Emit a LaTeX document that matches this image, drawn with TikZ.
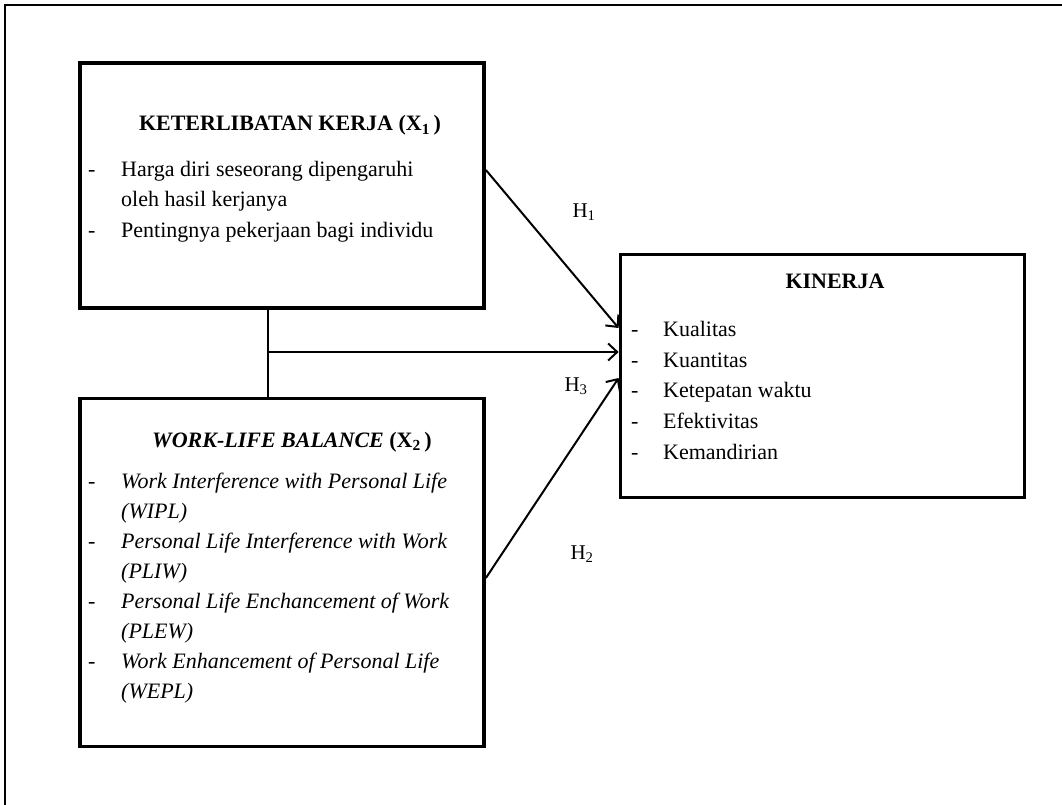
\documentclass[tikz,border=0pt]{standalone}
\usepackage{fontspec}
\setmainfont{Liberation Serif}
\usetikzlibrary{arrows.meta,calc}
\tikzset{
  boxnode/.style={draw, line width=3.8pt, inner sep=0pt, minimum width=404pt},
  txt/.style={anchor=base west, inner sep=0pt, font=\fontsize{22pt}{30pt}\selectfont},
  ttl/.style={anchor=base, inner sep=0pt, font=\fontsize{22pt}{30pt}\selectfont\bfseries},
  hlab/.style={anchor=center, inner sep=0pt, font=\fontsize{21pt}{24pt}\selectfont},
  conn/.style={line width=2pt},
  arr/.style={line width=2pt, -{Straight Barb[length=9pt,width=17pt,line width=2pt]}},
}
\newcommand{\dsh}{\makebox[33pt][l]{-}}
\begin{document}
\begin{tikzpicture}[x=1pt,y=-1pt]
\useasboundingbox (0,0) rectangle (1062,805);
% outer frame (only top and left visible)
\draw[line width=1.3pt] (5,805) -- (5,5) -- (1062,5);

% boxes
\node[boxnode, minimum height=245pt] (box1) at (282,185.5) {};
\node[boxnode, minimum height=348pt] (box2) at (282,572.5) {};
\node[boxnode, minimum height=243pt] (box3) at (822.5,376) {};

% box 1 text
\node[ttl] (t1) at (290,131) {KETERLIBATAN KERJA (X\textsubscript{1}\,)};
\node[txt] (b1a) at (88,177) {\dsh Harga diri seseorang dipengaruhi};
\node[txt] (b1b) at (121,207) {oleh hasil kerjanya};
\node[txt] (b1c) at (88,237) {\dsh Pentingnya pekerjaan bagi individu};

% box 2 text
\node[ttl] (t2) at (292,447) {\textit{WORK-LIFE BALANCE} (X\textsubscript{2}\,)};
\node[txt] (b2a) at (88,488) {\dsh\textit{Work Interference with Personal Life}};
\node[txt] (b2b) at (121,518) {\textit{(WIPL)}};
\node[txt] (b2c) at (88,548) {\dsh\textit{Personal Life Interference with Work}};
\node[txt] (b2d) at (121,578) {\textit{(PLIW)}};
\node[txt] (b2e) at (88,608) {\dsh\textit{Personal Life Enchancement of Work}};
\node[txt] (b2f) at (121,638) {\textit{(PLEW)}};
\node[txt] (b2g) at (88,668) {\dsh\textit{Work Enhancement of Personal Life}};
\node[txt] (b2h) at (121,698) {\textit{(WEPL)}};

% box 3 text
\node[ttl] (t3) at (835,288) {KINERJA};
\node[txt] (k1) at (631,336.5) {\makebox[32pt][l]{-}Kualitas};
\node[txt] (k2) at (631,367) {\makebox[32pt][l]{-}Kuantitas};
\node[txt] (k3) at (631,397.5) {\makebox[32pt][l]{-}Ketepatan waktu};
\node[txt] (k4) at (631,428.5) {\makebox[32pt][l]{-}Efektivitas};
\node[txt] (k5) at (631,459) {\makebox[32pt][l]{-}Kemandirian};

% hypothesis labels
\node[hlab] (h1) at (584,212) {H\textsubscript{1}};
\node[hlab] (h3) at (576,386) {H\textsubscript{3}};
\node[hlab] (h2) at (582,554) {H\textsubscript{2}};

% connectors
\coordinate (j) at (268,352);
\coordinate (s1) at (484,170);
\coordinate (e1) at (621,328);
\coordinate (s2) at (484,578);
\coordinate (e2) at (621,378);
\draw[conn] (box1.south -| j) -- (box2.north -| j);
\draw[arr] (j) -- (j -| box3.west);
\draw[arr] (box1.east |- s1) -- (box3.west |- e1);
\draw[arr] (box2.east |- s2) -- (box3.west |- e2);
\end{tikzpicture}
\end{document}
